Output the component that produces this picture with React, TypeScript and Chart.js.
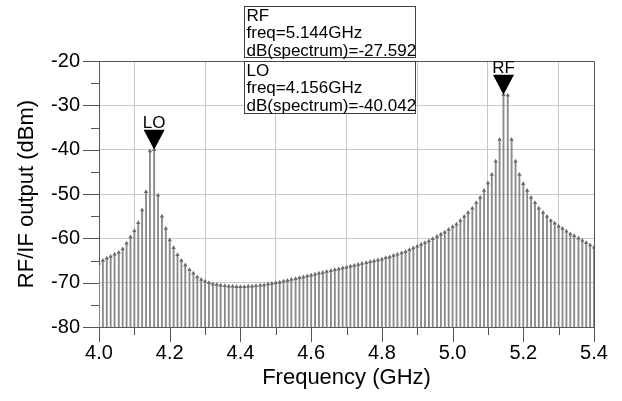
import React, { useEffect, useRef } from "react";
import { Chart, registerables } from "chart.js";

Chart.register(...registerables);

// Frequency bins (GHz)
const freqGHz = [
  4.000, 4.011, 4.022, 4.033, 4.044, 4.056, 4.067, 4.078, 4.089, 4.100,
  4.111, 4.122, 4.133, 4.144, 4.156, 4.167, 4.178, 4.189, 4.200, 4.211,
  4.222, 4.233, 4.244, 4.256, 4.267, 4.278, 4.289, 4.300, 4.311, 4.322,
  4.333, 4.344, 4.356, 4.367, 4.378, 4.389, 4.400, 4.411, 4.422, 4.433,
  4.444, 4.456, 4.467, 4.478, 4.489, 4.500, 4.511, 4.522, 4.533, 4.544,
  4.556, 4.567, 4.578, 4.589, 4.600, 4.611, 4.622, 4.633, 4.644, 4.656,
  4.667, 4.678, 4.689, 4.700, 4.711, 4.722, 4.733, 4.744, 4.756, 4.767,
  4.778, 4.789, 4.800, 4.811, 4.822, 4.833, 4.844, 4.856, 4.867, 4.878,
  4.889, 4.900, 4.911, 4.922, 4.933, 4.944, 4.956, 4.967, 4.978, 4.989,
  5.000, 5.011, 5.022, 5.033, 5.044, 5.056, 5.067, 5.078, 5.089, 5.100,
  5.111, 5.122, 5.133, 5.144, 5.156, 5.167, 5.178, 5.189, 5.200, 5.211,
  5.222, 5.233, 5.244, 5.256, 5.267, 5.278, 5.289, 5.300, 5.311, 5.322,
  5.333, 5.344, 5.356, 5.367, 5.378, 5.389, 5.400,
];

// Spectrum level (dBm) at each bin
const spectrumDb = [
  -65.6, -65.0, -64.5, -64.1, -63.6, -63.2, -62.4, -61.1, -59.7, -58.3,
  -56.5, -53.6, -49.5, -40.3, -40.042, -50.3, -55.0, -57.8, -60.4, -62.1,
  -63.7, -65.0, -66.0, -67.1, -67.9, -68.7, -69.3, -69.7, -70.0, -70.3,
  -70.4, -70.6, -70.7, -70.8, -70.8, -70.9, -70.9, -70.9, -70.8, -70.8,
  -70.7, -70.6, -70.5, -70.3, -70.2, -70.0, -69.9, -69.7, -69.5, -69.3,
  -69.1, -68.9, -68.7, -68.5, -68.3, -68.1, -67.9, -67.7, -67.5, -67.3,
  -67.1, -66.9, -66.7, -66.5, -66.3, -66.1, -65.9, -65.7, -65.5, -65.3,
  -65.1, -64.9, -64.7, -64.4, -64.2, -63.9, -63.6, -63.3, -63.0, -62.6,
  -62.2, -61.8, -61.4, -61.0, -60.6, -60.1, -59.6, -59.1, -58.6, -58.0,
  -57.4, -56.8, -56.0, -55.1, -54.2, -53.2, -52.0, -50.8, -49.2, -47.5,
  -45.6, -42.6, -37.7, -27.592, -27.7, -37.7, -42.6, -45.6, -47.7, -49.2,
  -50.8, -52.0, -53.2, -54.2, -55.1, -56.0, -56.6, -57.3, -57.8, -58.4,
  -59.0, -59.4, -60.0, -60.5, -61.0, -61.5, -62.0,
];

// Markers
const markerNames = ["LO", "RF"];
const markerIndex = [14, 103];

// Axis ticks
const xMajorTicks = [4.0, 4.2, 4.4, 4.6, 4.8, 5.0, 5.2, 5.4];
const xMinorTicks = [4.1, 4.3, 4.5, 4.7, 4.9, 5.1, 5.3];
const yMajorTicks = [-80, -70, -60, -50, -40, -30, -20];
const yMinorTicks = [-75, -65, -55, -45, -35, -25];

const FONT = "'Liberation Sans', Arial, sans-serif";
const AXIS_COLOR = "#555555";

const overlayPlugin = {
  id: "overlay",
  afterDraw(chart: any) {
    const { ctx, chartArea: a, scales } = chart;
    const xs = scales.x;
    const ys = scales.y;
    ctx.save();
    ctx.strokeStyle = AXIS_COLOR;
    ctx.lineWidth = 1;
    // top & right border
    ctx.beginPath();
    ctx.moveTo(a.left, Math.round(a.top) + 0.5);
    ctx.lineTo(Math.round(a.right) + 0.5, Math.round(a.top) + 0.5);
    ctx.lineTo(Math.round(a.right) + 0.5, a.bottom);
    ctx.stroke();
    // x ticks
    const drawX = (vals: number[], len: number) => {
      for (const v of vals) {
        const px = Math.round(xs.getPixelForValue(v)) + 0.5;
        ctx.beginPath();
        ctx.moveTo(px, a.bottom);
        ctx.lineTo(px, a.bottom + len);
        ctx.stroke();
      }
    };
    drawX(xMajorTicks, 15);
    drawX(xMinorTicks, 8);
    const drawY = (vals: number[], len: number) => {
      for (const v of vals) {
        const py = Math.round(ys.getPixelForValue(v)) + 0.5;
        ctx.beginPath();
        ctx.moveTo(a.left, py);
        ctx.lineTo(a.left - len, py);
        ctx.stroke();
      }
    };
    drawY(yMajorTicks, 16);
    drawY(yMinorTicks, 8);

    // marker triangles and names
    markerIndex.forEach((idx, m) => {
      const px = xs.getPixelForValue(freqGHz[idx]);
      const py = ys.getPixelForValue(spectrumDb[idx]);
      ctx.fillStyle = "#000";
      ctx.beginPath();
      ctx.moveTo(px, py);
      ctx.lineTo(px - 10.5, py - 20);
      ctx.lineTo(px + 10.5, py - 20);
      ctx.closePath();
      ctx.fill();
      ctx.font = `17px ${FONT}`;
      ctx.textAlign = "center";
      ctx.textBaseline = "alphabetic";
      ctx.fillText(markerNames[m], px, py - 22);
    });

    // readout boxes (RF first, then LO)
    const order = [1, 0];
    const boxTops = [6, 61];
    const boxHeights = [51, 52];
    order.forEach((m, i) => {
      const idx = markerIndex[m];
      const bx = 244.5;
      const by = boxTops[i] + 0.5;
      const bw = 171;
      const bh = boxHeights[i];
      ctx.fillStyle = "#fff";
      ctx.fillRect(bx, by, bw, bh);
      ctx.strokeStyle = "#404040";
      ctx.strokeRect(bx, by, bw, bh);
      ctx.fillStyle = "#000";
      ctx.font = `17px ${FONT}`;
      ctx.textAlign = "left";
      ctx.textBaseline = "alphabetic";
      const lines = [
        markerNames[m],
        `freq=${freqGHz[idx].toFixed(3)}GHz`,
        `dB(spectrum)=${spectrumDb[idx].toFixed(3)}`,
      ];
      lines.forEach((t, j) => {
        ctx.fillText(t, bx + 2, by + 14 + j * 17.5);
      });
    });
    ctx.restore();
  },
};

export default function App() {
  const ref = useRef<HTMLCanvasElement | null>(null);
  useEffect(() => {
    if (!ref.current) return;
    const chart = new Chart(ref.current, {
      type: "bar",
      data: {
        datasets: [
          {
            type: "bar",
            data: freqGHz.map((f, i) => ({ x: f, y: [-80, spectrumDb[i]] })) as any,
            backgroundColor: "#8a8a8a",
            borderWidth: 0,
            barThickness: 1.2,
            grouped: false,
            order: 2,
          } as any,
          {
            type: "scatter",
            data: freqGHz.map((f, i) => ({ x: f, y: spectrumDb[i] })),
            pointStyle: "triangle",
            pointRadius: 2.5,
            backgroundColor: "#6a6a6a",
            borderColor: "#6a6a6a",
            borderWidth: 0,
            order: 1,
          } as any,
        ],
      },
      options: {
        animation: false,
        responsive: false,
        devicePixelRatio: 1,
        layout: { padding: { top: 61, right: 28, left: 0, bottom: 0 } },
        plugins: {
          legend: { display: false },
          tooltip: { enabled: false },
        },
        scales: {
          x: {
            type: "linear",
            min: 4.0,
            max: 5.4,
            offset: false,
            afterBuildTicks: (s: any) => {
              s.ticks = xMajorTicks.map((v) => ({ value: v }));
            },
            afterFit: (s: any) => {
              s.height = 74;
            },
            ticks: {
              callback: (v: any) => Number(v).toFixed(1),
              font: { size: 20, family: FONT },
              color: "#000",
              padding: 14,
              maxRotation: 0,
              autoSkip: false,
            },
            grid: { color: "#c8c8c8", lineWidth: 1, drawTicks: false },
            border: { color: AXIS_COLOR, width: 1 },
            title: {
              display: true,
              text: "Frequency (GHz)",
              font: { size: 22, family: FONT },
              color: "#000",
              padding: { top: 0, bottom: 10 },
            },
          },
          y: {
            type: "linear",
            min: -80,
            max: -20,
            afterBuildTicks: (s: any) => {
              s.ticks = yMajorTicks.map((v) => ({ value: v }));
            },
            afterFit: (s: any) => {
              s.width = 99;
            },
            ticks: {
              font: { size: 20, family: FONT },
              color: "#000",
              padding: 19,
            },
            grid: { color: "#c8c8c8", lineWidth: 1, drawTicks: false },
            border: { color: AXIS_COLOR, width: 1 },
            title: {
              display: true,
              text: "RF/IF output (dBm)",
              font: { size: 22, family: FONT },
              color: "#000",
              padding: { top: 14, bottom: 0 },
            },
          },
        },
      } as any,
      plugins: [overlayPlugin],
    });
    return () => chart.destroy();
  }, []);
  return (
    <canvas
      ref={ref}
      width={622}
      height={401}
      style={{ position: "absolute", left: 0, top: 0, width: 622, height: 401 }}
    />
  );
}
